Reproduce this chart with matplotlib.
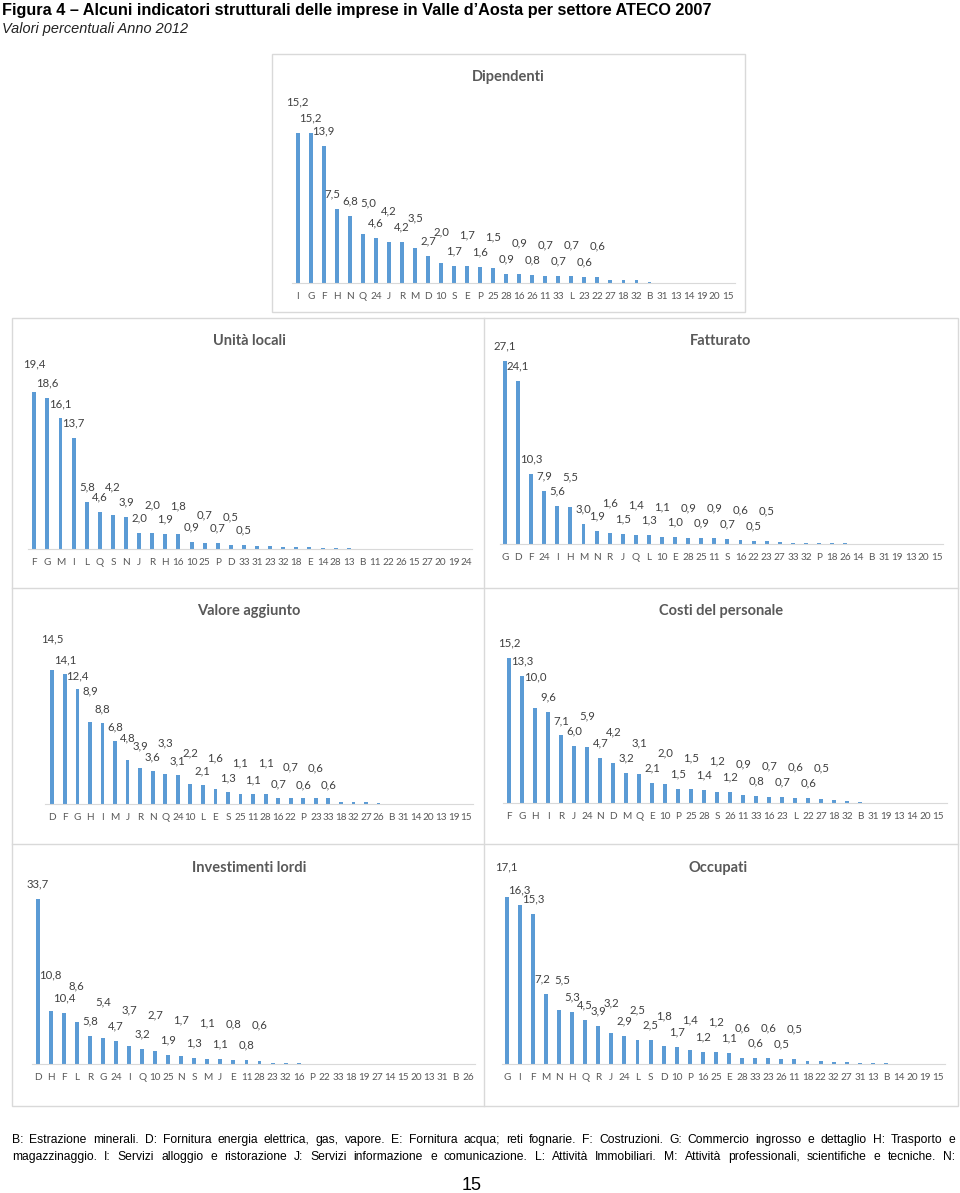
import matplotlib
matplotlib.use('Agg')
import matplotlib.pyplot as plt
from matplotlib import font_manager
from matplotlib.patches import Rectangle
from matplotlib.lines import Line2D

W, H = 960, 1193

# Data (shares %, sorted as in the source)
dip_cat = ['I', 'G', 'F', 'H', 'N', 'Q', '24', 'J', 'R', 'M', 'D', '10', 'S', 'E', 'P', '25', '28', '16',
           '26', '11', '33', 'L', '23', '22', '27', '18', '32', 'B', '31', '13', '14', '19', '20', '15']
dip_val = [15.2, 15.2, 13.9, 7.5, 6.8, 5.0, 4.6, 4.2, 4.2, 3.5, 2.7, 2.0, 1.7, 1.7, 1.6, 1.5, 0.9, 0.9,
           0.8, 0.7, 0.7, 0.7, 0.6, 0.6, 0.35, 0.35, 0.3, 0.07, 0.04, 0.03, 0.01, 0.0, 0.0, 0.0]

ul_cat = ['F', 'G', 'M', 'I', 'L', 'Q', 'S', 'N', 'J', 'R', 'H', '16', '10', '25', 'P', 'D', '33', '31',
          '23', '32', '18', 'E', '14', '28', '13', 'B', '11', '22', '26', '15', '27', '20', '19', '24']
ul_val = [19.4, 18.6, 16.1, 13.7, 5.8, 4.6, 4.2, 3.9, 2.0, 2.0, 1.9, 1.8, 0.9, 0.7, 0.7, 0.5, 0.5, 0.37,
          0.33, 0.25, 0.25, 0.2, 0.16, 0.12, 0.08, 0.03, 0.02, 0.01, 0.01, 0.0, 0.0, 0.0, 0.0, 0.0]

fat_cat = ['G', 'D', 'F', '24', 'I', 'H', 'M', 'N', 'R', 'J', 'Q', 'L', '10', 'E', '28', '25', '11', 'S',
           '16', '22', '23', '27', '33', '32', 'P', '18', '26', '14', 'B', '31', '19', '13', '20', '15']
fat_val = [27.1, 24.1, 10.3, 7.9, 5.6, 5.5, 3.0, 1.9, 1.6, 1.5, 1.4, 1.3, 1.1, 1.0, 0.9, 0.9, 0.9, 0.7,
           0.6, 0.5, 0.5, 0.25, 0.2, 0.15, 0.15, 0.15, 0.1, 0.02, 0.01, 0.0, 0.0, 0.0, 0.0, 0.0]

va_cat = ['D', 'F', 'G', 'H', 'I', 'M', 'J', 'R', 'N', 'Q', '24', '10', 'L', 'E', 'S', '25', '11', '28',
          '16', '22', 'P', '23', '33', '18', '32', '27', '26', 'B', '31', '14', '20', '13', '19', '15']
va_val = [14.5, 14.1, 12.4, 8.9, 8.8, 6.8, 4.8, 3.9, 3.6, 3.3, 3.1, 2.2, 2.1, 1.6, 1.3, 1.1, 1.1, 1.1,
          0.7, 0.7, 0.6, 0.6, 0.6, 0.27, 0.22, 0.18, 0.07, 0.04, 0.03, 0.01, 0.01, 0.0, 0.0, 0.0]

cp_cat = ['F', 'G', 'H', 'I', 'R', 'J', '24', 'N', 'D', 'M', 'Q', 'E', '10', 'P', '25', '28', 'S', '26',
          '11', '33', '16', '23', 'L', '22', '27', '18', '32', 'B', '31', '19', '13', '14', '20', '15']
cp_val = [15.2, 13.3, 10.0, 9.6, 7.1, 6.0, 5.9, 4.7, 4.2, 3.2, 3.1, 2.1, 2.0, 1.5, 1.5, 1.4, 1.2, 1.2,
          0.9, 0.8, 0.7, 0.7, 0.6, 0.6, 0.5, 0.3, 0.25, 0.1, 0.02, 0.01, 0.0, 0.0, 0.0, 0.0]

il_cat = ['D', 'H', 'F', 'L', 'R', 'G', '24', 'I', 'Q', '10', '25', 'N', 'S', 'M', 'J', 'E', '11', '28',
          '23', '32', '16', 'P', '22', '33', '18', '19', '27', '14', '15', '20', '13', '31', 'B', '26']
il_val = [33.7, 10.8, 10.4, 8.6, 5.8, 5.4, 4.7, 3.7, 3.2, 2.7, 1.9, 1.7, 1.3, 1.1, 1.1, 0.8, 0.8, 0.6,
          0.35, 0.3, 0.25, 0.1, 0.05, 0.03, 0.02, 0.01, 0.01, 0.0, 0.0, 0.0, 0.0, 0.0, 0.0, 0.0]

oc_cat = ['G', 'I', 'F', 'M', 'N', 'H', 'Q', 'R', 'J', '24', 'L', 'S', 'D', '10', 'P', '16', '25', 'E',
          '28', '33', '23', '26', '11', '18', '22', '32', '27', '31', '13', 'B', '14', '20', '19', '15']
oc_val = [17.1, 16.3, 15.3, 7.2, 5.5, 5.3, 4.5, 3.9, 3.2, 2.9, 2.5, 2.5, 1.8, 1.7, 1.4, 1.2, 1.2, 1.1,
          0.6, 0.6, 0.6, 0.5, 0.5, 0.27, 0.27, 0.24, 0.2, 0.14, 0.07, 0.07, 0.03, 0.0, 0.0, 0.0]

note_lines = [
    "B: Estrazione minerali. D: Fornitura energia elettrica, gas, vapore. E: Fornitura acqua; reti fognarie. "
    "F: Costruzioni. G: Commercio ingrosso e dettaglio H: Trasporto e",
    "magazzinaggio. I: Servizi alloggio e ristorazione J: Servizi informazione e comunicazione. "
    "L: Attività Immobiliari. M: Attività professionali, scientifiche e tecniche. N:",
]

BAR = '#5b9bd5'
GREY = '#595959'
LINE = '#d9d9d9'

installed = {f.name for f in font_manager.fontManager.ttflist}
NARROW = 'Liberation Sans Narrow' if 'Liberation Sans Narrow' in installed else 'Liberation Sans'
CHART_FONT = 'Lato'

fig = plt.figure(figsize=(W / 100, H / 100), dpi=100)
fig.patch.set_facecolor('white')


def fx(x):
    return x / W


def fy(y):
    return 1 - y / H


# panel layout in pixels: first bar x, last bar x, axis line left/right, baseline y, px per unit,
# indices whose label sits on the upper row, and the label offsets (px) for the two rows
panels = [
    ('Dipendenti', dip_cat, dip_val, (508, 77), 297.7, 727.7, 292, 735, 283, 9.87,
     {0, 5, 7, 9, 11, 13, 15, 17, 19, 21, 23}, 15, 31),
    ('Unità locali', ul_cat, ul_val, (249, 341), 34.3, 466.7, 28, 472, 549, 8.11,
     {0, 6, 9, 11, 13, 15}, 15, 28),
    ('Fatturato', fat_cat, fat_val, (721, 341), 505, 936.7, 500, 943, 544, 6.77,
     {5, 8, 10, 12, 14, 16, 18, 20}, 15, 30),
    ('Valore aggiunto', va_cat, va_val, (249, 611), 52.3, 466.4, 45, 473, 804, 9.24,
     {0, 3, 9, 11, 13, 15, 17, 19, 21}, 14, 31),
    ('Costi del personale', cp_cat, cp_val, (721, 611), 509.3, 938.3, 503, 947, 803.3, 9.56,
     {2, 6, 8, 10, 12, 14, 16, 18, 20, 22, 24}, 15, 31),
    ('Investimenti lordi', il_cat, il_val, (249, 868), 37.7, 468.3, 32, 475, 1064.3, 4.9,
     {1, 3, 5, 7, 9, 11, 13, 15, 17}, 15, 36),
    ('Occupati', oc_cat, oc_val, (718, 868), 506.7, 938.3, 502, 945, 1064, 9.78,
     {0, 4, 8, 10, 12, 14, 16, 18, 20, 22}, 15, 30),
]

# small horizontal nudges (px) for crowded labels
nudge = {('Dipendenti', 3): -4, ('Dipendenti', 5): 5, ('Occupati', 3): -4, ('Occupati', 4): 3}

for title, cats, vals, tpos, x0, xn, al, ar, base, ppu, high, off_lo, off_hi in panels:
    n = len(cats)
    step = (xn - x0) / (n - 1)
    hpx = 190
    ax = fig.add_axes([fx(al), fy(base), (ar - al) / W, hpx / H])
    ax.bar(range(n), vals, width=0.3, color=BAR)
    ax.set_xlim(-(x0 - al) / step, n - 1 + (ar - xn) / step)
    ax.set_ylim(0, hpx / ppu)
    ax.set_facecolor('none')
    for s in ['top', 'left', 'right']:
        ax.spines[s].set_visible(False)
    ax.spines['bottom'].set_color(LINE)
    ax.spines['bottom'].set_linewidth(0.8)
    ax.set_yticks([])
    ax.set_xticks(range(n))
    ax.set_xticklabels(cats, fontsize=7.2, color=GREY, family=CHART_FONT)
    ax.tick_params(axis='x', length=0, pad=6.5)
    for i, v in enumerate(vals):
        if v >= 0.5:
            off = off_hi if i in high else off_lo
            if title == 'Valore aggiunto' and i in (6, 7):
                off = 22
            dx = nudge.get((title, i), 0)
            ax.annotate(f'{v:.1f}'.replace('.', ','), (i, v), xytext=(dx * 0.72, off * 0.72),
                        textcoords='offset points', ha='center', va='center',
                        fontsize=8.2, color='#404040', family=CHART_FONT, annotation_clip=False)
    fig.text(fx(tpos[0]), fy(tpos[1]), title, ha='center', va='center', fontsize=10.5,
             fontweight='bold', color=GREY, family=CHART_FONT)

# frames
fig.add_artist(Rectangle((fx(272), fy(312)), (745 - 272) / W, (312 - 54) / H, transform=fig.transFigure,
                         fill=False, edgecolor=LINE, linewidth=1))
fig.add_artist(Rectangle((fx(12), fy(1106)), (958 - 12) / W, (1106 - 318) / H, transform=fig.transFigure,
                         fill=False, edgecolor=LINE, linewidth=1))
fig.add_artist(Line2D([fx(484), fx(484)], [fy(318), fy(1106)], transform=fig.transFigure,
                      color=LINE, linewidth=1))
for yy in (588, 844):
    fig.add_artist(Line2D([fx(12), fx(958)], [fy(yy), fy(yy)], transform=fig.transFigure,
                          color=LINE, linewidth=1))

renderer = fig.canvas.get_renderer()


def fit_text(x, y, s, width, **kw):
    t = fig.text(fx(x), fy(y), s, ha='left', va='center', **kw)
    w = t.get_window_extent(renderer).width
    t.set_fontsize(t.get_fontsize() * width / w)
    return t


fit_text(2, 11, "Figura 4 \u2013 Alcuni indicatori strutturali delle imprese in Valle d\u2019Aosta per settore ATECO 2007",
         708, fontsize=12, fontweight='bold', family=NARROW, color='black')
fit_text(2, 29, "Valori percentuali Anno 2012", 186, fontsize=9, style='italic', family=NARROW, color='#222222')


def justify(line, y, xl, xr, **kw):
    words = line.split()
    texts = [fig.text(0, fy(y), w, ha='left', va='baseline', **kw) for w in words]
    widths = [t.get_window_extent(renderer).width for t in texts]
    gap = (xr - xl - sum(widths)) / (len(words) - 1)
    x = xl
    for t, w in zip(texts, widths):
        t.set_x(fx(x))
        x += w + gap


justify(note_lines[0], 1143, 12, 955, fontsize=8.7, family=NARROW, color='black')
justify(note_lines[1], 1160, 12, 955, fontsize=8.7, family=NARROW, color='black')

fig.text(fx(472), fy(1186), '15', ha='center', va='center', fontsize=13, family=NARROW, color='black')

fig.savefig('out.png', dpi=100, facecolor='white')
